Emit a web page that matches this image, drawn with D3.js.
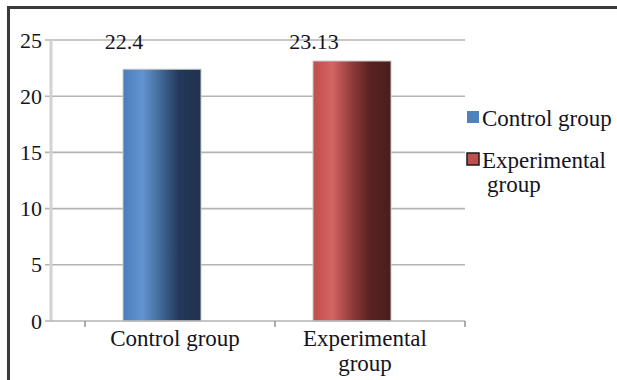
<!DOCTYPE html>
<html>
<head>
<meta charset="utf-8">
<script src="https://cdn.jsdelivr.net/npm/d3@7"></script>
<style>
  html, body { margin: 0; padding: 0; background: #fff; }
  svg { display: block; }
  svg text { font-family: "Liberation Serif", "DejaVu Serif", Tinos, "Times New Roman", Times, serif; fill: #14141e; }
</style>
</head>
<body>
<svg id="chart" width="617" height="380"></svg>
<script>
// Mean scores per group
const categories = ["Control group", "Experimental group"];
const values = [22.4, 23.13];
const valueLabels = ["22.4", "23.13"];
const yTicks = [0, 5, 10, 15, 20, 25];

const svg = d3.select("#chart");
const W = 617, H = 380;
const fontSize = 22;
const labelSize = 23;
const serif = "'Liberation Serif', 'DejaVu Serif', Tinos, 'Times New Roman', Times, serif";

const y = d3.scaleLinear().domain([0, 25]).range([321, 40]);
const x = d3.scaleBand().domain(categories).range([85, 465]).paddingInner(0).paddingOuter(0);
const axisLeftX = 51;
const barW = 78;
const barShift = -18;

// Gradients for the cylinder-like shading
const defs = svg.append("defs");
const palettes = [
  ["#4a7dbd", "#6394d0", "#3e6594", "#24385a", "#1f314d"],
  ["#c04f4c", "#d26461", "#8e3b39", "#5a2222", "#4a1d1d"]
];
palettes.forEach((p, i) => {
  const g = defs.append("linearGradient").attr("id", "grad" + i)
    .attr("x1", "0%").attr("x2", "100%").attr("y1", "0%").attr("y2", "0%");
  [[0, p[0]], [0.25, p[1]], [0.5, p[2]], [0.72, p[3]], [1, p[4]]].forEach(([o, c]) =>
    g.append("stop").attr("offset", o).attr("stop-color", c));
});

// Frame (top and left edges)
svg.append("line").attr("x1", 8.5).attr("x2", W).attr("y1", 7.5).attr("y2", 7.5)
  .attr("stroke", "#3a3a3a").attr("stroke-width", 3);
svg.append("line").attr("x1", 8.5).attr("x2", 8.5).attr("y1", 6).attr("y2", H)
  .attr("stroke", "#3a3a3a").attr("stroke-width", 3);

// Gridlines
svg.append("g").selectAll("line").data(yTicks.filter(d => d > 0)).join("line")
  .attr("x1", axisLeftX - 6).attr("x2", 465)
  .attr("y1", d => y(d)).attr("y2", d => y(d))
  .attr("stroke", "#b4b4b4").attr("stroke-width", 1.6);

// Vertical axis line
svg.append("line").attr("x1", axisLeftX).attr("x2", axisLeftX)
  .attr("y1", y(25)).attr("y2", y(0))
  .attr("stroke", "#d2d2d2").attr("stroke-width", 3);

// Y axis tick labels
const yAxis = d3.axisLeft(y).tickValues(yTicks).tickSize(0).tickPadding(8);
const yg = svg.append("g").attr("transform", `translate(${axisLeftX - 1},0)`).call(yAxis)
  .attr("font-family", serif);
yg.select(".domain").remove();
yg.selectAll("text").attr("font-size", fontSize).attr("fill", "#14141e");

// Bars
svg.append("g").selectAll("rect").data(values).join("rect")
  .attr("x", (d, i) => x(categories[i]) + (x.bandwidth() - barW) / 2 + barShift)
  .attr("width", barW)
  .attr("y", d => y(d))
  .attr("height", d => y(0) - y(d))
  .attr("fill", (d, i) => `url(#grad${i})`)
  .attr("stroke", "#c8c8c8").attr("stroke-width", 1);

// X axis line and ticks
svg.append("line").attr("x1", axisLeftX - 6).attr("x2", 465).attr("y1", y(0)).attr("y2", y(0))
  .attr("stroke", "#b4b4b4").attr("stroke-width", 1.6);
const tickXs = categories.map(c => x(c)).concat([x(categories[categories.length - 1]) + x.bandwidth()]);
svg.append("g").selectAll("line").data(tickXs).join("line")
  .attr("x1", d => d).attr("x2", d => d)
  .attr("y1", y(0)).attr("y2", y(0) + 6)
  .attr("stroke", "#8a8a8a").attr("stroke-width", 1.4);

// Value labels
svg.append("g").selectAll("text").data(values).join("text")
  .attr("x", (d, i) => x(categories[i]) + (x.bandwidth() - barW) / 2 + barShift + 1)
  .attr("y", 49)
  .attr("text-anchor", "middle")
  .attr("font-family", serif)
  .attr("font-size", fontSize)
  .text((d, i) => valueLabels[i]);

// Word-wrap helper
function wrapLines(text, maxW) {
  const probe = svg.append("text").attr("font-size", labelSize).attr("font-family", serif);
  const words = text.split(" ");
  const lines = [];
  let cur = "";
  words.forEach(w => {
    const t = cur ? cur + " " + w : w;
    probe.text(t);
    if (probe.node().getComputedTextLength() > maxW && cur) { lines.push(cur); cur = w; }
    else cur = t;
  });
  lines.push(cur);
  probe.remove();
  return lines;
}

// Category labels
categories.forEach(c => {
  const lines = wrapLines(c, 160);
  const cx = x(c) + x.bandwidth() / 2 - 5;
  const t = svg.append("text").attr("font-size", labelSize).attr("font-family", serif)
    .attr("text-anchor", "middle").attr("x", cx).attr("y", 346);
  lines.forEach((l, k) => t.append("tspan").attr("x", cx)
    .attr("dy", k === 0 ? 0 : 25).text(l));
});

// Legend
const legendColors = ["#4f81bd", "#c0504d"];
const legendY = [126, 168];
categories.forEach((c, i) => {
  const sq = svg.append("rect").attr("x", 467).attr("y", legendY[i] - 15)
    .attr("width", 12).attr("height", 12).attr("fill", legendColors[i]);
  if (i === 1) sq.attr("stroke", "#1a1a1a").attr("stroke-width", 1.5);
  const lines = wrapLines(c, 140);
  const t = svg.append("text").attr("font-size", labelSize).attr("font-family", serif)
    .attr("y", legendY[i]);
  lines.forEach((l, k) => t.append("tspan").attr("x", k === 0 ? 482 : 487)
    .attr("dy", k === 0 ? 0 : 24).text(l));
});
</script>
</body>
</html>
